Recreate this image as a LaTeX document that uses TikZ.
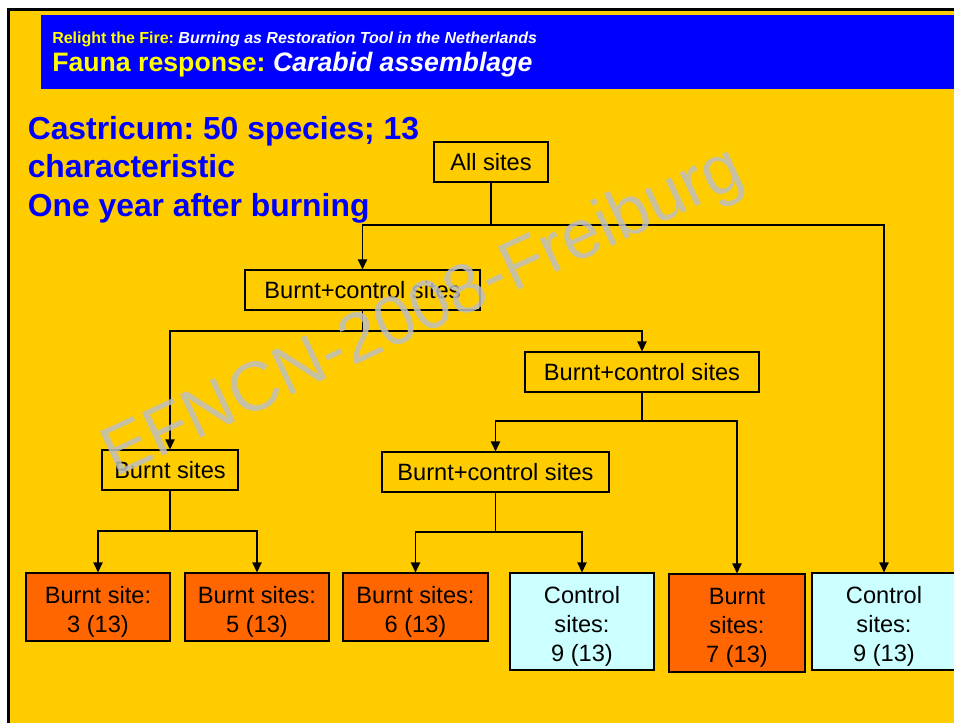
\documentclass[tikz,border=0pt]{standalone}
\usepackage{fontspec}
\setmainfont{Liberation Sans}
\usetikzlibrary{arrows.meta}
\frenchspacing
\newcommand{\firstline}{\rule{0pt}{19.5pt}}
\begin{document}
\begin{tikzpicture}[x=0.75pt,y=-0.75pt,
		sitebox/.style={draw=black,line width=0.9pt,inner sep=0pt,minimum height=30pt,align=center,font=\fontsize{17.7}{21.75}\selectfont},
		burntbox/.style={sitebox,fill=burntorange},
		ctrlbox/.style={sitebox,fill=ctrlcyan},
		link/.style={line width=0.9pt},
		arr/.style={link,-{Triangle[width=7pt,length=7.5pt]}},
		hdr/.style={anchor=base west,inner sep=0pt}]
		\definecolor{slideyellow}{HTML}{FFCC00}
		\definecolor{bandblue}{HTML}{0000FF}
		\definecolor{hdryellow}{HTML}{FFFF00}
		\definecolor{titleblue}{HTML}{0000FF}
		\definecolor{burntorange}{HTML}{FF6600}
		\definecolor{ctrlcyan}{HTML}{CCFFFF}
		\definecolor{wmgray}{RGB}{190,190,190}
		\useasboundingbox (0,0) rectangle (954,722);
		\fill[white] (0,0) rectangle (954,722);
		\draw[line width=1.9pt,fill=slideyellow] (8.75,9.5) rectangle (980,740);
		\fill[bandblue] (41,15) rectangle (980,89);
		\node[hdr,font=\bfseries\fontsize{12}{14}\selectfont] (sub) at (52,43.3) {\textcolor{hdryellow}{Relight the Fire:} \textcolor{white}{\itshape Burning as Restoration Tool in the Netherlands}};
		\node[hdr,font=\bfseries\fontsize{20}{24}\selectfont] (head) at (52,71.7) {\textcolor{hdryellow}{Fauna response:} \textcolor{white}{\itshape Carabid assemblage}};
		\node[hdr,text=titleblue,font=\bfseries\fontsize{23.9}{29}\selectfont] (title1) at (27.5,139.3) {Castricum: 50 species; 13};
		\node[hdr,text=titleblue,font=\bfseries\fontsize{23.9}{29}\selectfont] (title2) at (27.5,177.7) {characteristic};
		\node[hdr,text=titleblue,font=\bfseries\fontsize{23.9}{29}\selectfont] (title3) at (27.5,216.7) {One year after burning};
		\node[sitebox,minimum width=85.5pt] (all) at (491,162) {All sites};
		\node[sitebox,minimum width=176.25pt] (bc1) at (362.5,290) {Burnt+control sites};
		\node[sitebox,minimum width=175.5pt] (bc2) at (642,372) {Burnt+control sites};
		\node[sitebox,minimum width=102pt] (burnt) at (170,470) {Burnt sites};
		\node[sitebox,minimum width=170.25pt] (bc3) at (495.5,472) {Burnt+control sites};
		\node[burntbox,minimum width=108pt,minimum height=51pt] (r1) at (98,607) {\firstline Burnt site:\\3 (13)};
		\node[burntbox,minimum width=108pt,minimum height=51pt] (r2) at (257,607) {\firstline Burnt sites:\\5 (13)};
		\node[burntbox,minimum width=108.75pt,minimum height=51pt] (r3) at (415.5,607) {\firstline Burnt sites:\\6 (13)};
		\node[ctrlbox,minimum width=108pt,minimum height=72.75pt] (c1) at (582,621.5) {\firstline Control\\sites:\\9 (13)};
		\node[burntbox,minimum width=102pt,minimum height=73.5pt] (r4) at (737,623) {\firstline Burnt\\sites:\\7 (13)};
		\node[ctrlbox,minimum width=108pt,minimum height=72.75pt] (c2) at (884,621.5) {\firstline Control\\sites:\\9 (13)};
		\coordinate (j1) at (491,225);
		\coordinate (j2) at (362.5,331);
		\coordinate (j3) at (642,421);
		\coordinate (j4) at (170,531);
		\coordinate (j5) at (495.5,532);
		\draw[link] (all) -- (j1);
		\draw[arr] (j1) -| (bc1);
		\draw[arr] (j1) -| (c2);
		\draw[link] (bc1) -- (j2);
		\draw[arr] (j2) -| (burnt);
		\draw[arr] (j2) -| (bc2);
		\draw[link] (bc2) -- (j3);
		\draw[arr] (j3) -| (bc3);
		\draw[arr] (j3) -| (r4);
		\draw[link] (burnt) -- (j4);
		\draw[arr] (j4) -| (r1);
		\draw[arr] (j4) -| (r2);
		\draw[link] (bc3) -- (j5);
		\draw[arr] (j5) -| (r3);
		\draw[arr] (j5) -| (c1);
		\node[rotate=25,text=wmgray,text opacity=0.85,font=\fontsize{52}{62}\selectfont] (wm) at (424,314) {EFNCN-2008-Freiburg};
	\end{tikzpicture}
\end{document}
